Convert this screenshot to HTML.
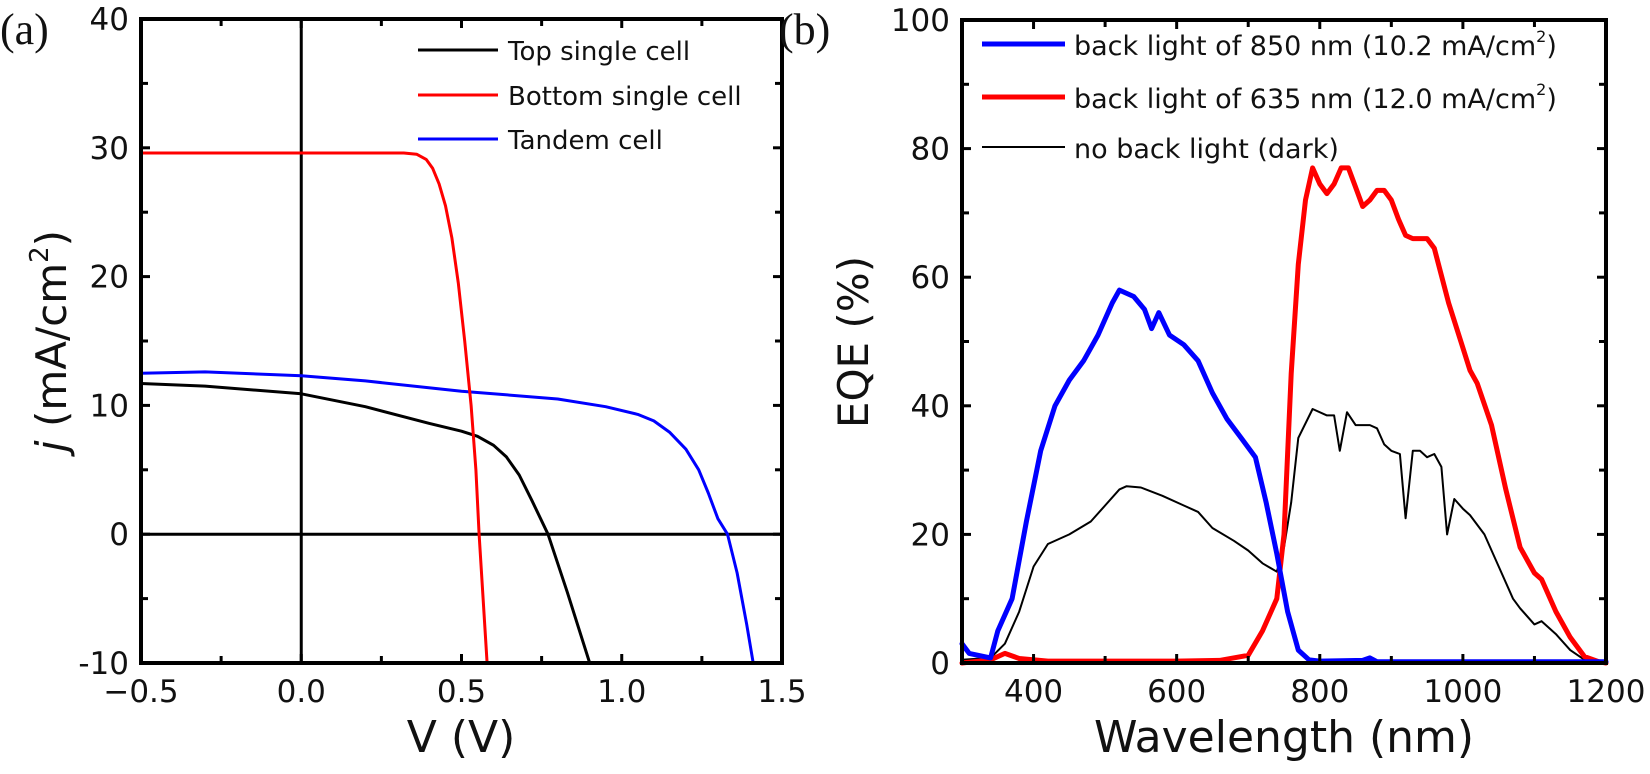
<!DOCTYPE html>
<html><head><meta charset="utf-8"><style>
html,body{margin:0;padding:0;background:#fff;}
svg{display:block;}
text{font-family:"DejaVu Sans","Liberation Sans",sans-serif;fill:#111;}
</style></head><body>
<svg id="s" width="1650" height="774" viewBox="0 0 1650 774" xmlns="http://www.w3.org/2000/svg">
<g id="g"></g>
<text x="0" y="44" style="font-family:'Liberation Serif',serif;font-size:44px">(a)</text>
<text x="779" y="44" style="font-family:'Liberation Serif',serif;font-size:44px">(b)</text>
<text x="461" y="752" text-anchor="middle" font-size="44">V (V)</text>
<text transform="translate(66,341) rotate(-90)" text-anchor="middle" font-size="42"><tspan font-style="italic">j</tspan> (mA/cm<tspan font-size="26" dy="-18">2</tspan><tspan dy="18">)</tspan></text>
<line x1="418" y1="50" x2="498" y2="50" stroke="#000" stroke-width="3"/>
<line x1="418" y1="95" x2="498" y2="95" stroke="#f00" stroke-width="3"/>
<line x1="418" y1="139" x2="498" y2="139" stroke="#00f" stroke-width="3"/>
<text x="508" y="60" font-size="26">Top single cell</text>
<text x="508" y="105" font-size="26">Bottom single cell</text>
<text x="508" y="149" font-size="26">Tandem cell</text>
<text x="1284" y="752" text-anchor="middle" font-size="44">Wavelength (nm)</text>
<text transform="translate(868,342) rotate(-90)" text-anchor="middle" font-size="42">EQE (%)</text>
<line x1="982" y1="44" x2="1065" y2="44" stroke="#00f" stroke-width="5"/>
<line x1="982" y1="97" x2="1065" y2="97" stroke="#f00" stroke-width="5"/>
<line x1="982" y1="147" x2="1065" y2="147" stroke="#000" stroke-width="2"/>
<text x="1074" y="55" font-size="27">back light of 850 nm (10.2 mA/cm<tspan font-size="16" dy="-13">2</tspan><tspan dy="13">)</tspan></text>
<text x="1074" y="108" font-size="27">back light of 635 nm (12.0 mA/cm<tspan font-size="16" dy="-13">2</tspan><tspan dy="13">)</tspan></text>
<text x="1074" y="158" font-size="27">no back light (dark)</text>
</svg>
<script>
var g=document.getElementById('g'),NS='http://www.w3.org/2000/svg';
function el(t,a){var e=document.createElementNS(NS,t);for(var k in a)e.setAttribute(k,a[k]);g.appendChild(e);return e;}
function txt(x,y,s,anc,fs){var e=el('text',{x:x,y:y,'text-anchor':anc,'font-size':fs});e.textContent=s;}
var A={l:141,r:782,t:19,b:663};
function ax(v){return A.l+(v+0.5)*(A.r-A.l)/2;}
function ay(j){return A.b-(j+10)*(A.b-A.t)/50;}
function path(pts,fx,fy,col,w){var d='';pts.forEach(function(p,i){d+=(i?'L':'M')+fx(p[0]).toFixed(1)+','+fy(p[1]).toFixed(1);});el('path',{d:d,fill:'none',stroke:col,'stroke-width':w,'stroke-linejoin':'round','stroke-linecap':'round'});}
el('line',{x1:ax(0),y1:A.t,x2:ax(0),y2:A.b,stroke:'#000','stroke-width':3});
el('line',{x1:A.l,y1:ay(0),x2:A.r,y2:ay(0),stroke:'#000','stroke-width':3});
path([[-0.5,12.5],[-0.3,12.6],[0,12.3],[0.2,11.9],[0.5,11.1],[0.8,10.5],[0.95,9.9],[1.05,9.3],[1.1,8.8],[1.15,7.9],[1.2,6.6],[1.24,5],[1.27,3.2],[1.3,1.2],[1.33,0],[1.36,-3],[1.39,-7],[1.41,-10]],ax,ay,'#00f',3);
path([[-0.5,11.7],[-0.3,11.5],[0,10.9],[0.2,9.9],[0.4,8.6],[0.5,8],[0.55,7.6],[0.6,6.9],[0.64,6],[0.68,4.6],[0.72,2.6],[0.77,0],[0.83,-4.5],[0.9,-10]],ax,ay,'#000',3);
path([[-0.5,29.6],[0.32,29.6],[0.36,29.5],[0.39,29.1],[0.41,28.4],[0.43,27.2],[0.45,25.5],[0.47,23],[0.49,19.5],[0.51,15],[0.53,10],[0.545,5],[0.555,0],[0.58,-10]],ax,ay,'#f00',3);
for(var v=-0.5;v<=1.501;v+=0.25){var x=ax(v),maj=Math.abs(v*2-Math.round(v*2))<1e-6,L=maj?9:7;
 el('line',{x1:x,y1:A.b,x2:x,y2:A.b-L,stroke:'#000','stroke-width':3});el('line',{x1:x,y1:A.t,x2:x,y2:A.t+L,stroke:'#000','stroke-width':3});
 if(maj)txt(x,702,v.toFixed(1).replace('-','\u2212'),'middle',31);}
for(var j=-10;j<=40;j+=5){var y=ay(j),maj=j%10==0,L=maj?9:7;
 el('line',{x1:A.l,y1:y,x2:A.l+L,y2:y,stroke:'#000','stroke-width':3});el('line',{x1:A.r,y1:y,x2:A.r-L,y2:y,stroke:'#000','stroke-width':3});
 if(maj)txt(A.l-12,y+11,String(j),'end',31);}
el('rect',{x:A.l,y:A.t,width:A.r-A.l,height:A.b-A.t,fill:'none',stroke:'#000','stroke-width':4});
var B={l:962,r:1606,t:20,b:663};
function bx(w){return B.l+(w-300)*(B.r-B.l)/900;}
function by(e){return B.b-e*(B.b-B.t)/100;}
path([[300,0.5],[340,0.8],[360,3],[380,8],[400,15],[420,18.5],[450,20],[480,22],[500,24.5],[520,27],[530,27.5],[550,27.3],[580,26],[610,24.5],[630,23.5],[650,21],[680,19],[700,17.5],[720,15.5],[740,14.2],[750,18],[760,25],[770,35],[790,39.5],[810,38.5],[820,38.5],[828,33],[838,39],[850,37],[870,37],[880,36.5],[890,34],[900,33],[912,32.5],[920,22.5],[930,33],[940,33],[950,32],[960,32.5],[970,30.5],[978,20],[988,25.5],[1000,24],[1010,23],[1030,20],[1050,15],[1070,10],[1080,8.5],[1100,6],[1110,6.5],[1130,4.5],[1150,2],[1170,0.5],[1190,0]],bx,by,'#000',2);
path([[300,0],[340,0.5],[360,1.5],[380,0.7],[420,0.3],[600,0.3],[660,0.4],[700,1.2],[720,5],[740,10],[750,20],[760,45],[770,62],[780,72],[790,77],[800,74.5],[810,73],[820,74.5],[830,77],[840,77],[850,74],[860,71],[870,72],[880,73.5],[890,73.5],[900,72],[910,69],[920,66.5],[930,66],[950,66],[960,64.5],[980,56],[1000,49],[1010,45.5],[1020,43.5],[1040,37],[1060,27],[1080,18],[1100,14],[1110,13],[1130,8],[1150,4],[1170,1],[1190,0.2],[1200,0]],bx,by,'#f00',5);
path([[300,3],[310,1.5],[340,0.8],[350,5],[370,10],[390,22],[410,33],[430,40],[450,44],[470,47],[490,51],[510,56],[520,58],[540,57],[555,55],[565,52],[575,54.5],[590,51],[610,49.5],[630,47],[650,42],[670,38],[690,35],[710,32],[725,25],[740,17],[755,8],[770,2],[785,0.5],[800,0.3],[860,0.4],[870,0.8],[880,0.2],[1200,0.2]],bx,by,'#00f',5);
for(var w=300;w<=1200;w+=100){var x=bx(w),maj=w%200==0,L=maj?9:7;
 el('line',{x1:x,y1:B.b,x2:x,y2:B.b-L,stroke:'#000','stroke-width':3});el('line',{x1:x,y1:B.t,x2:x,y2:B.t+L,stroke:'#000','stroke-width':3});
 if(maj)txt(x,702,String(w),'middle',31);}
for(var e=0;e<=100;e+=10){var y=by(e),maj=e%20==0,L=maj?9:7;
 el('line',{x1:B.l,y1:y,x2:B.l+L,y2:y,stroke:'#000','stroke-width':3});el('line',{x1:B.r,y1:y,x2:B.r-L,y2:y,stroke:'#000','stroke-width':3});
 if(maj)txt(B.l-12,y+11,String(e),'end',31);}
el('rect',{x:B.l,y:B.t,width:B.r-B.l,height:B.b-B.t,fill:'none',stroke:'#000','stroke-width':4});
</script>
</body></html>
